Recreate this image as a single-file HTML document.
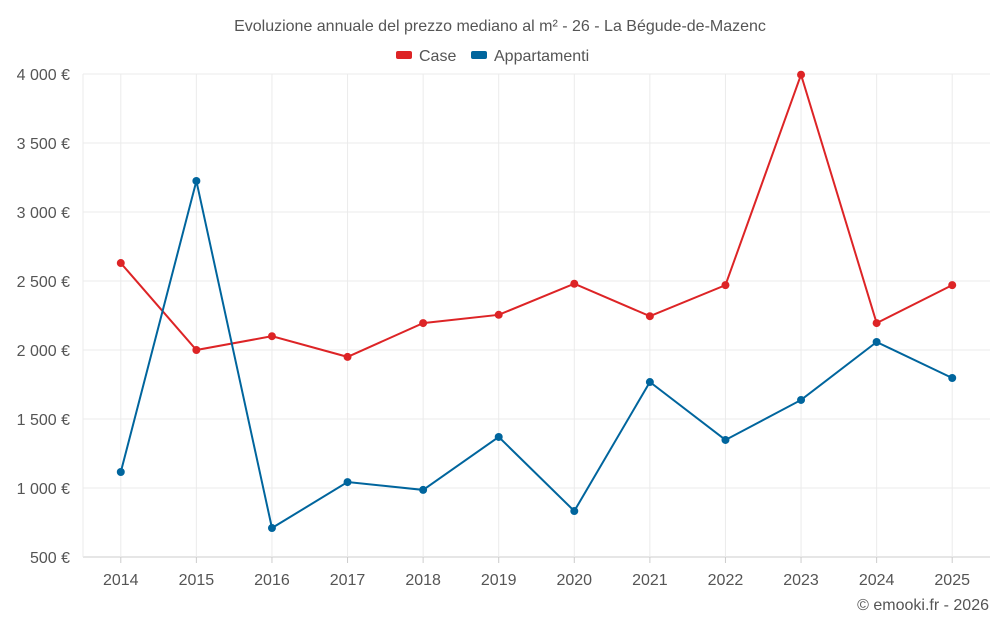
<!DOCTYPE html>
<html><head><meta charset="utf-8">
<style>
html,body{margin:0;padding:0;background:#fff;}
svg{display:block;font-family:"Liberation Sans",sans-serif;}
</style></head>
<body>
<svg id="chart" width="1000" height="625" viewBox="0 0 1000 625">
  <text x="500" y="31" text-anchor="middle" font-size="16" fill="#555">Evoluzione annuale del prezzo mediano al m² - 26 - La Bégude-de-Mazenc</text>
  <g>
    <g>
      <rect x="396" y="51" width="16" height="8" rx="2" fill="#dd2426"/>
      <text x="419" y="61" font-size="16" fill="#555">Case</text>
    </g>
    <g>
      <rect x="471" y="51" width="16" height="8" rx="2" fill="#00659d"/>
      <text x="494" y="61" font-size="16" fill="#555">Appartamenti</text>
    </g>
  </g>
  <g id="grid"></g>
  <g id="axes"></g>
  <g id="series"></g>
  <text x="989" y="610" text-anchor="end" font-size="16" fill="#555">© emooki.fr - 2026</text>
</svg>
<script>
const years = ["2014","2015","2016","2017","2018","2019","2020","2021","2022","2023","2024","2025"];
const caseValues = [2630,2000,2100,1950,2195,2255,2480,2245,2470,3995,2195,2470];
const appValues = [1116,3225,710,1043,986,1370,833,1768,1348,1638,2058,1797];
const yTicks = [500,1000,1500,2000,2500,3000,3500,4000];
const yTickLabels = ["500 €","1 000 €","1 500 €","2 000 €","2 500 €","3 000 €","3 500 €","4 000 €"];

const NS = "http://www.w3.org/2000/svg";
const L = 83, R = 990, T = 74, B = 557, yMin = 500, yMax = 4000;
const band = (R - L) / years.length;
const x = i => L + band * (i + 0.5);
const y = v => B - (v - yMin) / (yMax - yMin) * (B - T);
function mk(tag, attrs, parent){ const e = document.createElementNS(NS, tag); for (const k in attrs) e.setAttribute(k, attrs[k]); parent.appendChild(e); return e; }

const grid = document.getElementById('grid');
const axes = document.getElementById('axes');
const series = document.getElementById('series');

yTicks.forEach((v, i) => {
  const gl = mk('line', {x1:L, x2:R, y1:y(v), y2:y(v), stroke: i===0 ? '#ccc' : '#ebebeb', 'stroke-width':1}, grid);
  
  
  const t = mk('text', {x:70, y:y(v)+6, 'text-anchor':'end', 'font-size':16, fill:'#555'}, axes);
  t.textContent = yTickLabels[i];
  
  
});
const edge = mk('line', {x1:L, x2:L, y1:T, y2:B, stroke:'#ebebeb', 'stroke-width':1}, grid);


years.forEach((yr, i) => {
  const gl = mk('line', {x1:x(i), x2:x(i), y1:T, y2:B, stroke:'#ebebeb', 'stroke-width':1}, grid);
  
  
  const tk = mk('line', {x1:x(i), x2:x(i), y1:B, y2:B+6, stroke:'#ccc'}, axes);
  
  
  const t = mk('text', {x:x(i), y:585, 'text-anchor':'middle', 'font-size':16, fill:'#555'}, axes);
  t.textContent = yr;
  
  
});

function drawSeries(vals, color, name){
  const g = mk('g', {}, series);
  
  
  const p = mk('polyline', {points: vals.map((v,i)=>x(i)+','+y(v)).join(' '), fill:'none', stroke:color, 'stroke-width':2}, g);
  
  
  vals.forEach((v,i) => {
    const c = mk('circle', {cx:x(i), cy:y(v), r:4, fill:color}, g);
    
    
  });
}
drawSeries(caseValues, '#dd2426', 'case');
drawSeries(appValues, '#00659d', 'appartamenti');
</script>
</body></html>
